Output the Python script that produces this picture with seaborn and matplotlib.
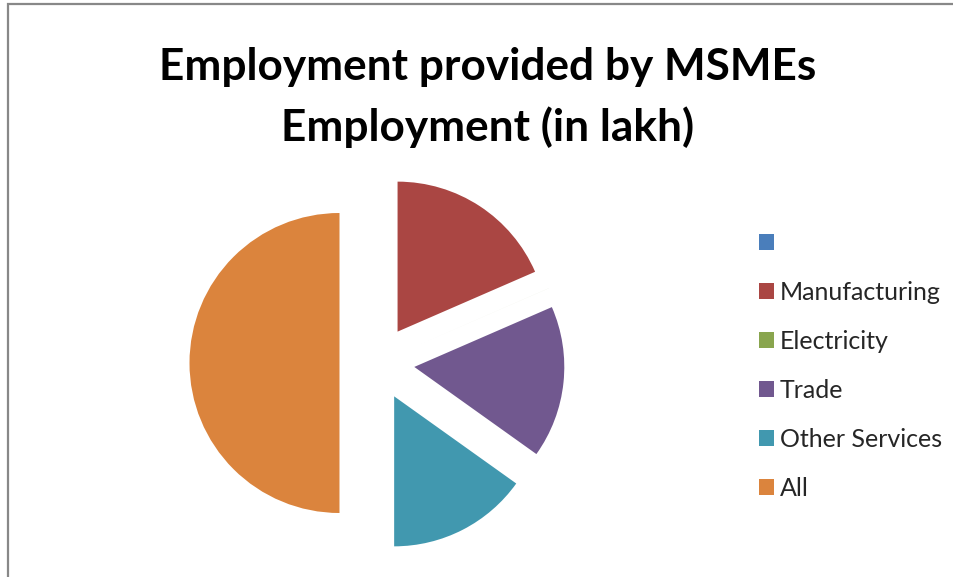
import matplotlib
matplotlib.use("Agg")
import matplotlib.pyplot as plt
import matplotlib.patches as mpatches
import seaborn as sns

# ---- data (employment in lakh) ----
categories = ["", "Manufacturing", "Electricity", "Trade", "Other Services", "All"]
employment = [0.0, 410.0, 0.07, 364.0, 336.0, 1110.0]
title_lines = ["Employment provided by MSMEs", "Employment (in lakh)"]
colors = ["#4A7EBB", "#AA4643", "#89A54E", "#71588F", "#4198AF", "#DB843D"]

sns.set_theme(style="white")
plt.rcParams["font.family"] = ["Lato", "DejaVu Sans"]

W, H = 954, 577
fig = plt.figure(figsize=(W / 100, H / 100), dpi=100)
fig.patch.set_facecolor("white")

# pie axes: radius 1 -> 150 px, centre at (377, 363) px from top-left
cx, cy, R = 377, 363, 150
half = 400
ax = fig.add_axes([(cx - half / 2) / W, (H - cy - half / 2) / H, half / W, half / H])
pal = sns.color_palette(colors)
wedges, _ = ax.pie(
    employment,
    colors=pal,
    startangle=90,
    counterclock=False,
    explode=[0.25] * len(employment),
    wedgeprops=dict(linewidth=0),
)
lim = half / 2 / R
ax.set_xlim(-lim, lim)
ax.set_ylim(-lim, lim)
ax.set_aspect("equal")
ax.axis("off")

# title, two centred bold lines
renderer = fig.canvas.get_renderer()
t1 = fig.text(488 / W, 1 - 80 / H, title_lines[0], ha="center", va="baseline",
              fontsize=32, fontweight="bold", color="black")
w = t1.get_window_extent(renderer).width
fs = 32 * 658 / w
t1.set_fontsize(fs)
fig.text(488 / W, 1 - 141 / H, title_lines[1], ha="center", va="baseline",
         fontsize=fs, fontweight="bold", color="black")

# legend
leg = fig.legend(
    wedges, categories,
    loc="upper left",
    bbox_to_anchor=(759 / W, 1 - 232 / H),
    frameon=False,
    fontsize=18,
    handlelength=0.58,
    handleheight=0.58,
    handletextpad=0.25,
    labelspacing=1.04,
    borderpad=0,
    borderaxespad=0,
)

# outer chart border (top and left visible)
rect = mpatches.Rectangle((8 / W, -0.1), 1.2, 1.1 - 4 / H,
                          transform=fig.transFigure, fill=False,
                          edgecolor="#888888", linewidth=1.6)
fig.add_artist(rect)

fig.savefig("out.png", dpi=100)
